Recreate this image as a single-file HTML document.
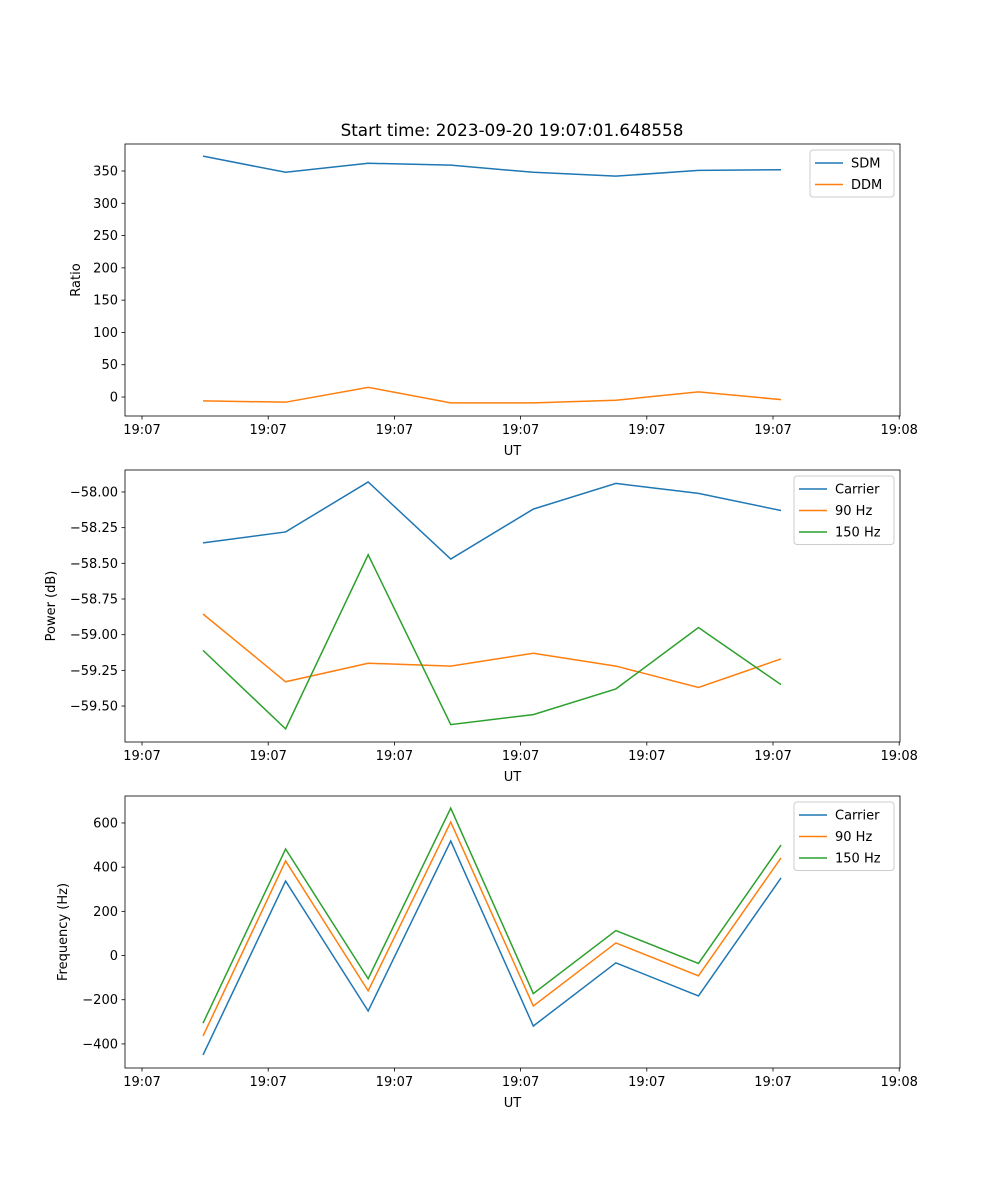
<!DOCTYPE html>
<html><head><meta charset="utf-8"><style>
html,body{margin:0;padding:0;background:#fff;}
svg{display:block;font-family:"DejaVu Sans","Liberation Sans",sans-serif;}
</style></head><body>
<svg id="fig" width="1000" height="1200" xmlns="http://www.w3.org/2000/svg">
<rect width="1000" height="1200" fill="#fff"/>
<text x="512" y="136" font-size="16.8" text-anchor="middle">Start time: 2023-09-20 19:07:01.648558</text>
</svg>
<script>
const samples = [0,1,2,3,4,5,6,7];
const xTickLabels = ["19:07","19:07","19:07","19:07","19:07","19:07","19:08"];
const sdm = [373,348,362,359,348,342,351,352];
const ddm = [-6,-8,15,-9,-9,-5,8,-4];
const powCarrier = [-58.357,-58.28,-57.93,-58.47,-58.12,-57.94,-58.01,-58.13];
const pow90 = [-58.855,-59.33,-59.2,-59.22,-59.13,-59.22,-59.37,-59.17];
const pow150 = [-59.11,-59.66,-58.44,-59.63,-59.56,-59.38,-58.95,-59.35];
const freqCarrier = [-450,337,-251,518,-319,-33,-183,351];
const freq90 = [-364,428,-160,604,-228,57,-92,442];
const freq150 = [-306,482,-105,667,-172,113,-36,500];
const ratioTicks = [0,50,100,150,200,250,300,350];
const powerTicks = [-59.5,-59.25,-59.0,-58.75,-58.5,-58.25,-58.0];
const freqTicks = [-400,-200,0,200,400,600];

const NS="http://www.w3.org/2000/svg";
const svg=document.getElementById('fig');
function mk(tag,attrs,parent){const e=document.createElementNS(NS,tag);for(const k in attrs)e.setAttribute(k,attrs[k]);(parent||svg).appendChild(e);return e;}
const L=125,R=900;
const xmin=-0.945,xmax=8.441;
const xs=v=>L+(v-xmin)/(xmax-xmin)*(R-L);
const xTickPos=[0,1,2,3,4,5,6].map(i=>-0.739+i*1.5284);

function panel(name,top,bot,ymin,ymax,ticks,fmt,ylabel,series,legend){
  const g=mk('g',{});
  
  
  const ys=v=>bot-(v-ymin)/(ymax-ymin)*(bot-top);
  series.forEach(s=>{
    const p=mk('polyline',{points:s.data.map((v,i)=>xs(samples[i])+','+ys(v)).join(' '),fill:'none',stroke:s.color,'stroke-width':1.5},g);
    
    
  });
  const fr=mk('rect',{x:L,y:top,width:R-L,height:bot-top,fill:'none',stroke:'#000','stroke-width':0.8},g);
  
  
  ticks.forEach(t=>{
    const y=ys(t);
    mk('line',{x1:L-3.5,x2:L,y1:y,y2:y,stroke:'#000','stroke-width':0.8},g);
    const tx=mk('text',{x:L-7,y:y+4.5,'font-size':13,'text-anchor':'end'},g);
    tx.textContent=fmt(t);
    
    
  });
  xTickPos.forEach((v,i)=>{
    const x=xs(v);
    mk('line',{x1:x,x2:x,y1:bot,y2:bot+3.5,stroke:'#000','stroke-width':0.8},g);
    const tx=mk('text',{x:x,y:bot+18,'font-size':13,'text-anchor':'middle'},g);
    tx.textContent=xTickLabels[i];
    
    
  });
  const xl=mk('text',{x:(L+R)/2,y:bot+39,'font-size':13,'text-anchor':'middle'},g);
  xl.textContent='UT';
  
  
  const yc=(top+bot)/2;
  const yl=mk('text',{x:0,y:0,'font-size':13,'text-anchor':'middle',transform:`translate(${legend.ylx},${yc}) rotate(-90)`},g);
  yl.textContent=ylabel;
  
  
  const lg=mk('g',{},g);
  
  
  const lh=21.5*series.length+4;
  mk('rect',{x:legend.x,y:top+6,width:R-6-legend.x,height:lh,fill:'#fff',stroke:'#ccc',rx:3},lg);
  series.forEach((s,i)=>{
    const y=top+19+i*21.5;
    const e=mk('g',{},lg);
    
    
    mk('line',{x1:legend.x+5,x2:legend.x+33,y1:y,y2:y,stroke:s.color,'stroke-width':1.5},e);
    const t=mk('text',{x:legend.x+41,y:y+4.5,'font-size':13},e);
    t.textContent=s.label;
  });
}
panel('ratio-panel',144,416,-29.4,391.8,ratioTicks,v=>String(v),'Ratio',
  [{id:'sdm',label:'SDM',data:sdm,color:'#1f77b4'},{id:'ddm',label:'DDM',data:ddm,color:'#ff7f0e'}],{x:810,ylx:80});
panel('power-panel',470,742,-59.752,-57.846,powerTicks,v=>'\u2212'+Math.abs(v).toFixed(2),'Power (dB)',
  [{id:'carrier-power',label:'Carrier',data:powCarrier,color:'#1f77b4'},{id:'power-90hz',label:'90 Hz',data:pow90,color:'#ff7f0e'},{id:'power-150hz',label:'150 Hz',data:pow150,color:'#2ca02c'}],{x:794,ylx:55});
panel('frequency-panel',796,1068,-509,722,freqTicks,v=>v<0?'\u2212'+Math.abs(v):String(v),'Frequency (Hz)',
  [{id:'carrier-freq',label:'Carrier',data:freqCarrier,color:'#1f77b4'},{id:'freq-90hz',label:'90 Hz',data:freq90,color:'#ff7f0e'},{id:'freq-150hz',label:'150 Hz',data:freq150,color:'#2ca02c'}],{x:794,ylx:67});
</script>
</body></html>
